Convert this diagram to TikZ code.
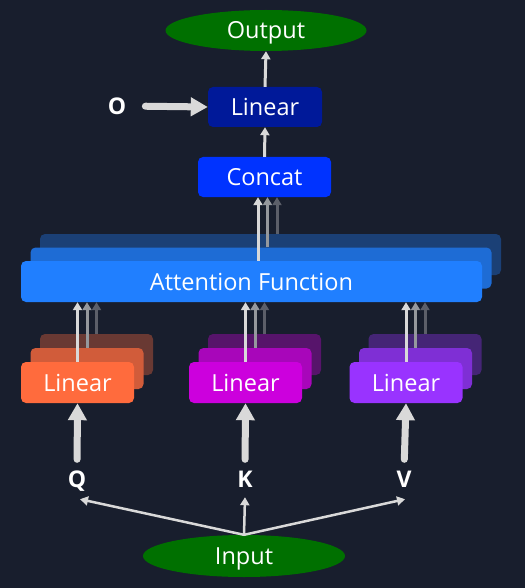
\documentclass[tikz,border=0pt]{standalone}
\usepackage{fontspec}
\setmainfont{Open Sans}
\usetikzlibrary{shapes.geometric,arrows.meta}

\definecolor{fondo}{RGB}{24,30,45}
\definecolor{verde}{RGB}{0,112,0}
\definecolor{azuloscuro}{RGB}{0,25,153}
\definecolor{azulconcat}{RGB}{0,51,255}
\definecolor{azulatt}{RGB}{32,127,255}
\definecolor{naranja}{RGB}{255,107,61}
\definecolor{rosa}{RGB}{204,0,221}
\definecolor{violeta}{RGB}{153,51,255}
\definecolor{flecha}{RGB}{217,217,217}

\begin{document}
\begin{tikzpicture}[x=1pt, y=-1pt,
  caja/.style={rectangle, rounded corners=5pt, text=white, inner sep=0pt,
    text height=17pt, text depth=0pt, font=\fontsize{23.5}{28}\selectfont},
  capa/.style={caja, minimum width=461pt, minimum height=41pt},
  proy/.style={caja, minimum width=113pt, minimum height=41pt},
  elipse/.style={ellipse, fill=verde, text=white, inner sep=0pt,
    text height=17pt, text depth=0pt,
    minimum width=201pt, minimum height=41pt, font=\fontsize{23.5}{28}\selectfont},
  etiqueta/.style={text=white, inner sep=0pt, text height=17pt, text depth=0pt,
    font=\fontsize{23}{28}\selectfont\bfseries},
  fina/.style={draw=flecha, line width=3pt, -{Triangle[length=8pt,width=9pt]}},
  gruesa/.style={draw=flecha, line width=7pt, line cap=round,
    -{Triangle[length=17pt,width=18pt]}}]

  % Fondo
  \fill[fondo] (0,0) rectangle (525,588);
  \useasboundingbox (0,0) rectangle (525,588);

  % Salida
  \node[elipse] (out) at (266,30.5) {Output};
  \node[caja, fill=azuloscuro, minimum width=114pt, minimum height=40pt] (lin) at (265,107) {Linear};
  \node[etiqueta] (o) at (117,106) {O};
  \node[caja, fill=azulconcat, minimum width=133pt, minimum height=40pt] (concat) at (264.5,177) {Concat};

  % Capas de atencion
  \node[capa, fill=azulatt!35!fondo] (att3) at (270.5,254.5) {};
  \node[capa, fill=azulatt!80!fondo] (att2) at (261,268) {};
  \node[capa, fill=azulatt] (att) at (251.5,281.5) {Attention Function};

  % Proyecciones lineales
  \node[proy, fill=naranja!35!fondo] (q3) at (96.5,354.5) {};
  \node[proy, fill=naranja!80!fondo] (q2) at (87,368.5) {};
  \node[proy, fill=naranja] (q1) at (77.5,382.5) {Linear};
  \node[proy, fill=rosa!35!fondo] (k3) at (264.5,354.5) {};
  \node[proy, fill=rosa!80!fondo] (k2) at (255,368.5) {};
  \node[proy, fill=rosa] (k1) at (245.5,382.5) {Linear};
  \node[proy, fill=violeta!35!fondo] (v3) at (425,354.5) {};
  \node[proy, fill=violeta!80!fondo] (v2) at (415.5,368.5) {};
  \node[proy, fill=violeta] (v1) at (406,382.5) {Linear};

  % Entradas
  \node[etiqueta] (lq) at (77,479) {Q};
  \node[etiqueta] (lk) at (245,479) {K};
  \node[etiqueta] (lv) at (404,479) {V};
  \node[elipse, minimum width=202pt, minimum height=42pt] (inp) at (244,556) {Input};

  % Flechas
  \draw[fina] (lin.north) -- (out.south);
  \draw[fina] (concat.north) -- (lin.south);
  \draw[gruesa, shorten <=19pt] (o.east) -- (lin.west);

  \draw[fina] ([xshift=6.5pt]att.north) -- ([xshift=6.5pt]att.north |- concat.south);
  \draw[fina, draw=flecha!65!fondo] ([xshift=6.5pt]att2.north) -- ([xshift=6.5pt]att2.north |- concat.south);
  \draw[fina, draw=flecha!35!fondo] ([xshift=6.5pt]att3.north) -- ([xshift=6.5pt]att3.north |- concat.south);

  \draw[fina] (q1.north) -- (q1.north |- att.south);
  \draw[fina, draw=flecha!65!fondo] (q2.north) -- (q2.north |- att.south);
  \draw[fina, draw=flecha!35!fondo] (q3.north) -- (q3.north |- att.south);
  \draw[fina] (k1.north) -- (k1.north |- att.south);
  \draw[fina, draw=flecha!65!fondo] (k2.north) -- (k2.north |- att.south);
  \draw[fina, draw=flecha!35!fondo] (k3.north) -- (k3.north |- att.south);
  \draw[fina] (v1.north) -- (v1.north |- att.south);
  \draw[fina, draw=flecha!65!fondo] (v2.north) -- (v2.north |- att.south);
  \draw[fina, draw=flecha!35!fondo] (v3.north) -- (v3.north |- att.south);

  \draw[gruesa, shorten <=11pt] (lq.north) -- (q1.south);
  \draw[gruesa, shorten <=11pt] (lk.north) -- (k1.south);
  \draw[gruesa, shorten <=11pt] (lv.north) -- (v1.south);

  \draw[fina, line width=2.5pt] (inp.north) -- ([xshift=3pt, yshift=-11.5pt]lq.south);
  \draw[fina, line width=2.5pt] (inp.north) -- ([yshift=-9.5pt]lk.south);
  \draw[fina, line width=2.5pt] (inp.north) -- ([xshift=1pt, yshift=-11.5pt]lv.south);
\end{tikzpicture}
\end{document}
